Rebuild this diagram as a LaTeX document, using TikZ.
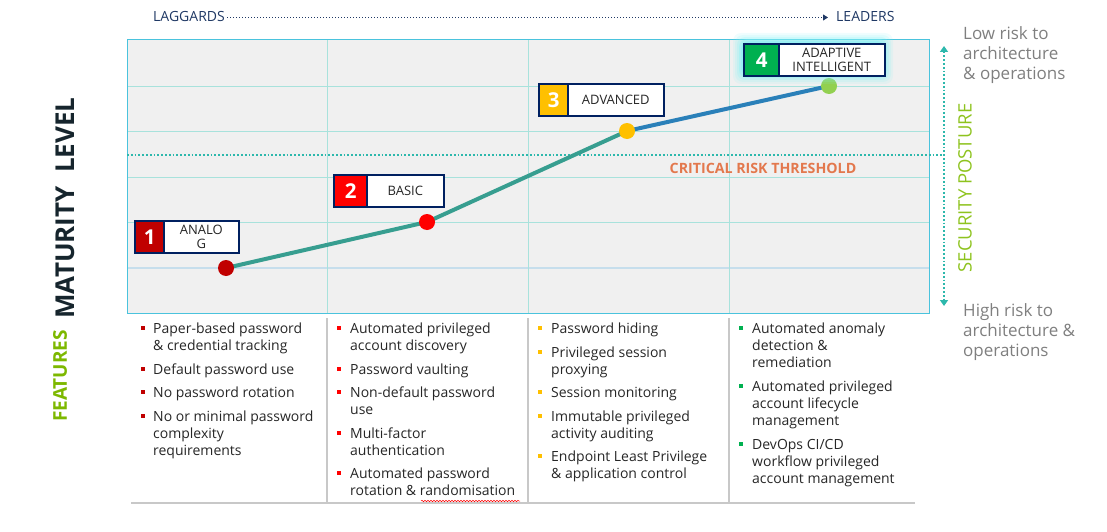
\documentclass[tikz,border=0pt]{standalone}
\usepackage{fontspec}
\setmainfont{Open Sans}
\usetikzlibrary{arrows.meta,decorations.pathmorphing}
\definecolor{navy}{HTML}{1F3864}
\definecolor{boxnavy}{HTML}{002060}
\definecolor{bgfill}{HTML}{F0F0F0}
\definecolor{gridc}{HTML}{A8E2DC}
\definecolor{gridb}{HTML}{C6DEEC}
\definecolor{borderc}{HTML}{4AC3DD}
\definecolor{tealdot}{HTML}{2DB8AC}
\definecolor{lineteal}{HTML}{379E90}
\definecolor{lineblue}{HTML}{2A80B9}
\definecolor{orangec}{HTML}{E3784D}
\definecolor{featgreen}{HTML}{7DB800}
\definecolor{secgreen}{HTML}{8EC31F}
\definecolor{graytext}{HTML}{7F7F7F}
\definecolor{bodytext}{HTML}{262626}
\definecolor{sepgray}{HTML}{C8C8C8}
\definecolor{cdark}{HTML}{C00000}
\definecolor{cred}{HTML}{FF0000}
\definecolor{cyel}{HTML}{FFC000}
\definecolor{cgreen}{HTML}{00B050}
\definecolor{clight}{HTML}{92D050}
\definecolor{glowc}{HTML}{7FF0F5}
\definecolor{matc}{HTML}{16252D}
\begin{document}
\begin{tikzpicture}[x=1pt,y=-1pt,
  numcell/.style={draw=boxnavy,line width=1.6pt,minimum height=32pt,inner sep=0pt,text=white,font=\fontsize{20.5}{20}\selectfont\bfseries},
  labcell/.style={draw=boxnavy,line width=1.6pt,fill=white,minimum height=32pt,inner sep=0pt,text=bodytext,align=center,font=\fontsize{13}{14}\selectfont},
  dotpt/.style={circle,inner sep=0pt,minimum size=16pt},
  item/.style={anchor=north west,inner sep=0pt,align=left,text=bodytext,font=\fontsize{14}{17}\selectfont},
  bul/.style={rectangle,inner sep=0pt,minimum size=4.5pt},
  hdr/.style={anchor=base west,inner sep=0pt,text=navy,font=\fontsize{14}{16}\selectfont},
  sidetext/.style={anchor=north west,inner sep=0pt,align=left,text=graytext,font=\fontsize{17}{20}\selectfont}]
\useasboundingbox (0,0) rectangle (1107,532);
% chart background
\fill[bgfill] (127,40) rectangle (929,313);
\foreach \yy in {86,131,177,222} \draw[gridc,line width=0.9pt] (127,\yy) -- (929,\yy);
\draw[gridb,line width=1.2pt] (127,268) -- (929,268);
\foreach \xx in {327,528,729} \draw[gridc,line width=0.9pt] (\xx,40) -- (\xx,313);
\draw[borderc,line width=1pt] (127,40) rectangle (929,313);
% header
\node[hdr] (lag) at (153,22) {LAGGARDS};
\node[hdr] (lead) at (836,22) {LEADERS};
\draw[navy,line width=1pt,dotted,-{Triangle[width=6pt,length=5pt]}] ([xshift=2pt,yshift=-0.5pt]lag.east) -- ([xshift=-8pt,yshift=-0.5pt]lead.west);
% threshold
\coordinate (thL) at (127,155);
\coordinate (thR) at (944,155);
\draw[tealdot,line width=1.8pt,dotted] (thL) -- (thR);
\node[text=orangec,font=\fontsize{14.2}{16}\selectfont\bfseries] (crit) at (763,168) {CRITICAL RISK THRESHOLD};
% security posture arrow
\coordinate (spT) at (944,46);
\coordinate (spB) at (944,306);
\draw[tealdot,line width=1.8pt,dotted,{Triangle[width=8pt,length=6pt]}-{Triangle[width=8pt,length=6pt]}] (spT) -- (spB);
\node[rotate=90,text=secgreen,font=\fontsize{18.5}{20}\selectfont] (sec) at (965,188) {SECURITY POSTURE};
\node[sidetext] (low) at (963,26) {Low risk to\\architecture\\\& operations};
\node[sidetext] (high) at (963,303) {High risk to\\architecture \&\\operations};
% left labels
\node[rotate=90,text=matc,font=\fontsize{26}{28}\selectfont\bfseries] (mat) at (65,208) {MATURITY\ \ LEVEL};
\node[rotate=90,text=featgreen,font=\fontsize{19}{20}\selectfont\bfseries] (feat) at (60,376) {FEATURES};
% curve
\coordinate (p1) at (226,268);
\coordinate (p2) at (427,222);
\coordinate (p3) at (627,131);
\coordinate (p4) at (829,86);
\draw[lineteal,line width=4pt] (p1) -- (p2) -- (p3);
\draw[lineblue,line width=4pt] (p3) -- (p4);
\node[dotpt,fill=cdark] (d1) at (p1) {};
\node[dotpt,fill=cred] (d2) at (p2) {};
\node[dotpt,fill=cyel] (d3) at (p3) {};
\node[dotpt,fill=clight] (d4) at (p4) {};
% glow for box 4
\foreach \g/\o in {9/0.12,7/0.15,5/0.2,3/0.3,1/0.4}
  \fill[glowc,opacity=\o,rounded corners=8pt] (742-\g,42-\g) rectangle (884+\g,75+\g);
% level boxes
\node[numcell,fill=cdark,minimum width=30pt,anchor=north west] (n1) at (134,220) {1};
\node[labcell,minimum width=75pt,anchor=north west] (l1) at (163,220) {ANALO\\G};
\node[numcell,fill=cred,minimum width=34pt,anchor=north west] (n2) at (333,174) {2};
\node[labcell,minimum width=77pt,anchor=north west] (l2) at (366,174) {BASIC};
\node[numcell,fill=cyel,minimum width=30pt,anchor=north west] (n3) at (538,83) {3};
\node[labcell,minimum width=96pt,anchor=north west] (l3) at (567,83) {ADVANCED};
\node[numcell,fill=cgreen,minimum width=36pt,anchor=north west] (n4) at (743,43) {4};
\node[labcell,minimum width=106pt,anchor=north west] (l4) at (778,43) {ADAPTIVE\\INTELLIGENT};
% feature columns
\foreach \xx in {327,528,729} \draw[sepgray,line width=1.2pt] (\xx,318) -- (\xx,503);
\coordinate (bl) at (131,503);
\coordinate (br) at (915,503);
\draw[sepgray,line width=1.5pt] (bl) -- (br);
% column 1
\foreach \yy [count=\i] in {328,369,392,416} \node[bul,fill=cdark] (b1\i) at (143,\yy) {};
\node[item] (c1a) at (153,323) {Paper-based password\\\& credential tracking};
\node[item] (c1b) at (153,364) {Default password use};
\node[item] (c1c) at (153,387) {No password rotation};
\node[item] (c1d) at (153,411) {No or minimal password\\complexity\\requirements};
% column 2
\foreach \yy [count=\i] in {328,369,392,433,473} \node[bul,fill=cred] (b2\i) at (339,\yy) {};
\node[item] (c2a) at (350,323) {Automated privileged\\account discovery};
\node[item] (c2b) at (350,364) {Password vaulting};
\node[item] (c2c) at (350,387) {Non-default password\\use};
\node[item] (c2d) at (350,428) {Multi-factor\\authentication};
\node[item] (c2e) at (350,468) {Automated password\\rotation \& randomisation};
\draw[red,line width=0.5pt,decorate,decoration={snake,amplitude=0.7pt,segment length=3pt}] (421,501) -- (520,501);
% column 3
\foreach \yy [count=\i] in {328,352,392,416,456} \node[bul,fill=cyel] (b3\i) at (540,\yy) {};
\node[item] (c3a) at (551,323) {Password hiding};
\node[item] (c3b) at (551,347) {Privileged session\\proxying};
\node[item] (c3c) at (551,387) {Session monitoring};
\node[item] (c3d) at (551,411) {Immutable privileged\\activity auditing};
\node[item] (c3e) at (551,451) {Endpoint Least Privilege\\\& application control};
% column 4
\foreach \yy [count=\i] in {328,386,444} \node[bul,fill=cgreen] (b4\i) at (741,\yy) {};
\node[item] (c4a) at (752,323) {Automated anomaly\\detection \&\\remediation};
\node[item] (c4b) at (752,381) {Automated privileged\\account lifecycle\\management};
\node[item] (c4c) at (752,439) {DevOps CI/CD\\workflow privileged\\account management};
\end{tikzpicture}
\end{document}
